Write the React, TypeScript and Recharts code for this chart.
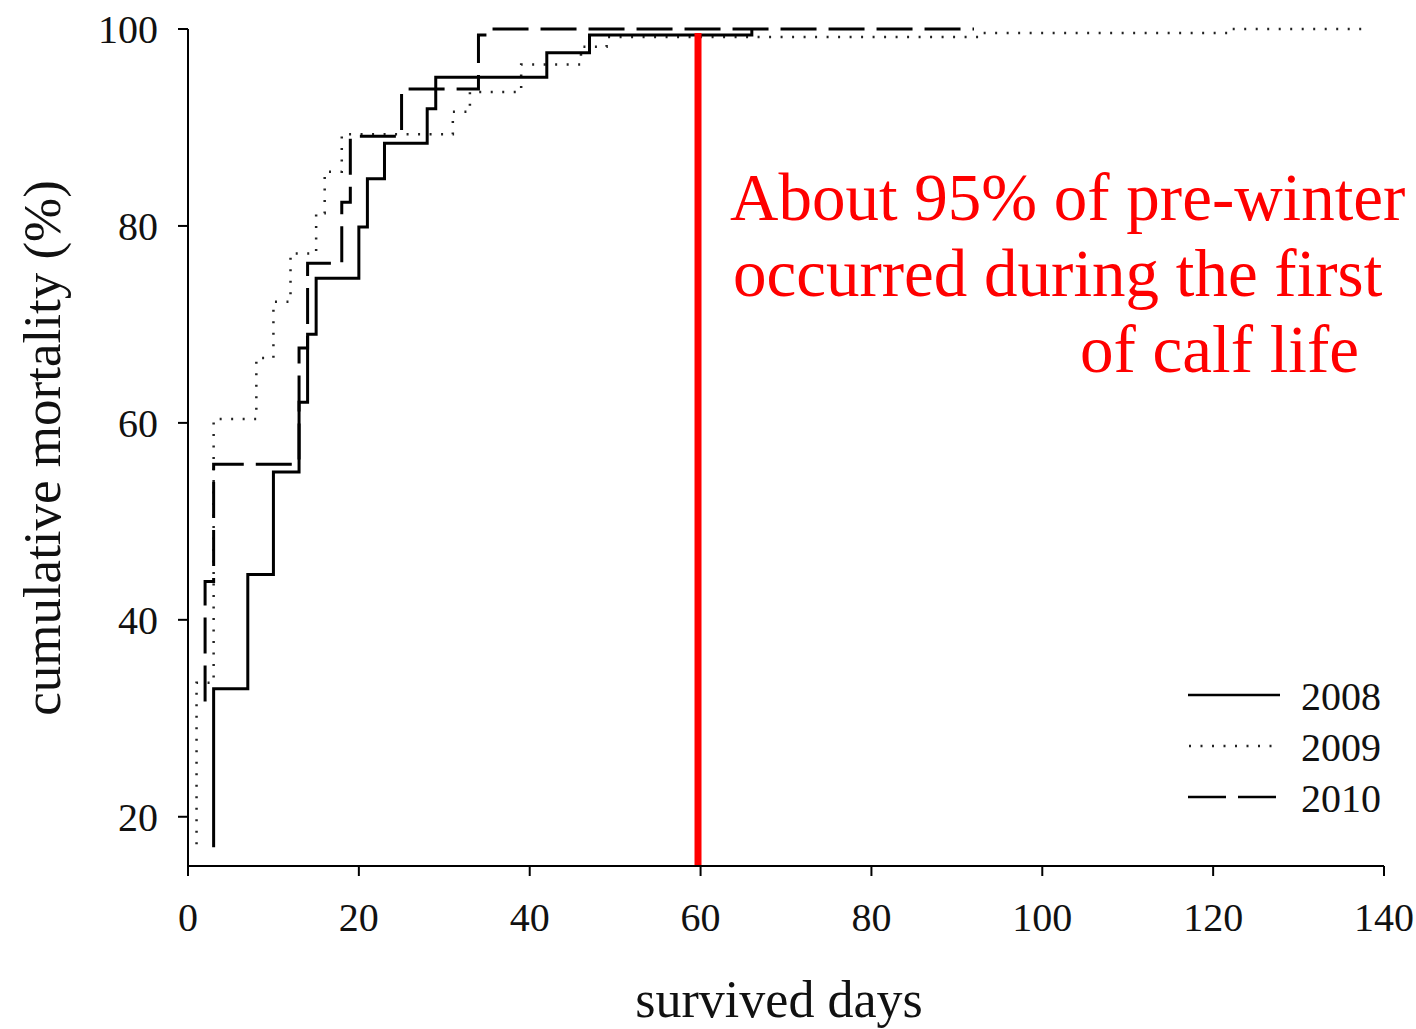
import React from 'react';
import { LineChart, Line, XAxis, YAxis, ReferenceLine, Customized } from 'recharts';

// Cumulative mortality step curves (day of event, cumulative %)
const days2008 = [3, 3, 7, 10, 13, 14, 15, 20, 21, 23, 28, 29, 42, 47, 66];
const mort2008 = [16.9, 33.0, 44.6, 55.0, 62.1, 69.0, 74.7, 79.9, 84.8, 88.4, 91.9, 95.1, 97.6, 99.4, 100];

const days2009 = [1, 1, 3, 8, 10, 12, 15, 16, 18, 31, 33, 39, 46, 49, 93, 122, 138];
const mort2009 = [17.2, 33.6, 60.4, 66.6, 72.3, 77.2, 81.3, 85.5, 89.3, 91.6, 93.6, 96.4, 98.2, 99.2, 99.6, 100, 100];

const days2010 = [2, 2, 3, 13, 14, 18, 19, 25, 34, 35, 92];
const mort2010 = [31.7, 43.9, 55.8, 67.6, 76.2, 82.4, 89.1, 93.9, 99.4, 100, 100];

const xTicks = [0, 20, 40, 60, 80, 100, 120, 140];
const yTicks = [20, 40, 60, 80, 100];
const markerDay = 59.7;
const markerTop = 99.6;

const annotationLines = ['About 95% of pre-winter', 'occurred during the first', 'of calf life'];
const legendYears = ['2008', '2009', '2010'];

const build = (d: number[], m: number[]) => d.map((day, i) => ({ day, v: m[i] }));
const data2008 = build(days2008, mort2008);
const data2009 = build(days2009, mort2009);
const data2010 = build(days2010, mort2010);

const SERIF = '"Liberation Serif", "Times New Roman", Times, serif';

const Overlay = () => (
  <g>
    {/* axis titles */}
    <text
      x={60}
      y={448}
      transform="rotate(-90, 60, 448)"
      textAnchor="middle"
      fontFamily={SERIF}
      fontSize={53}
      fill="#111"
    >
      cumulative mortality (%)
    </text>
    <text x={779} y={1017} textAnchor="middle" fontFamily={SERIF} fontSize={52} fill="#111">
      survived days
    </text>
    {/* annotation */}
    <text x={730} y={220} fontFamily={SERIF} fontSize={67} fill="#ff0000">
      {annotationLines[0]}
    </text>
    <text x={733} y={296} fontFamily={SERIF} fontSize={67} fill="#ff0000">
      {annotationLines[1]}
    </text>
    <text x={1080} y={372} fontFamily={SERIF} fontSize={67} fill="#ff0000">
      {annotationLines[2]}
    </text>
    {/* legend */}
    <line x1={1188} y1={695} x2={1280} y2={695} stroke="#000" strokeWidth={2.5} />
    <line x1={1189} y1={746} x2={1280} y2={746} stroke="#222" strokeWidth={2.5} strokeDasharray="2 9.5" />
    <line x1={1188} y1={797} x2={1276} y2={797} stroke="#000" strokeWidth={2.5} strokeDasharray="38 12" />
    {legendYears.map((y, i) => (
      <text key={y} x={1301} y={710 + i * 51} fontFamily={SERIF} fontSize={40} fill="#111">
        {y}
      </text>
    ))}
  </g>
);

export default function App() {
  return (
    <div style={{ position: 'fixed', left: 0, top: 0, width: 1416, height: 1029, background: '#fff' }}>
      <LineChart width={1416} height={1029} margin={{ top: 29, right: 32, left: 128, bottom: 103 }}>
        <XAxis
          type="number"
          dataKey="day"
          domain={[0, 140]}
          ticks={xTicks}
          interval={0}
          height={60}
          tickSize={10}
          tickMargin={27}
          axisLine={{ stroke: '#000', strokeWidth: 2 }}
          tickLine={{ stroke: '#000', strokeWidth: 2 }}
          tick={{ fill: '#111', fontSize: 40, fontFamily: SERIF }}
          allowDuplicatedCategory={false}
        />
        <YAxis
          type="number"
          domain={[15, 100]}
          ticks={yTicks}
          interval={0}
          width={60}
          tickSize={10}
          tickMargin={20}
          axisLine={{ stroke: '#000', strokeWidth: 2 }}
          tickLine={{ stroke: '#000', strokeWidth: 2 }}
          tick={{ fill: '#111', fontSize: 40, fontFamily: SERIF }}
        />
        <Line
          data={data2009}
          dataKey="v"
          type="stepAfter"
          stroke="#222"
          strokeWidth={2.5}
          strokeDasharray="2 9.5"
          dot={false}
          activeDot={false}
          isAnimationActive={false}
        />
        <Line
          data={data2010}
          dataKey="v"
          type="stepAfter"
          stroke="#000"
          strokeWidth={3}
          strokeDasharray="36 12"
          dot={false}
          activeDot={false}
          isAnimationActive={false}
        />
        <Line
          data={data2008}
          dataKey="v"
          type="stepAfter"
          stroke="#000"
          strokeWidth={3}
          dot={false}
          activeDot={false}
          isAnimationActive={false}
        />
        <ReferenceLine
          segment={[
            { x: markerDay, y: 15 },
            { x: markerDay, y: markerTop },
          ]}
          stroke="#ff0000"
          strokeWidth={7}
        />
        <Customized component={Overlay} />
      </LineChart>
    </div>
  );
}
